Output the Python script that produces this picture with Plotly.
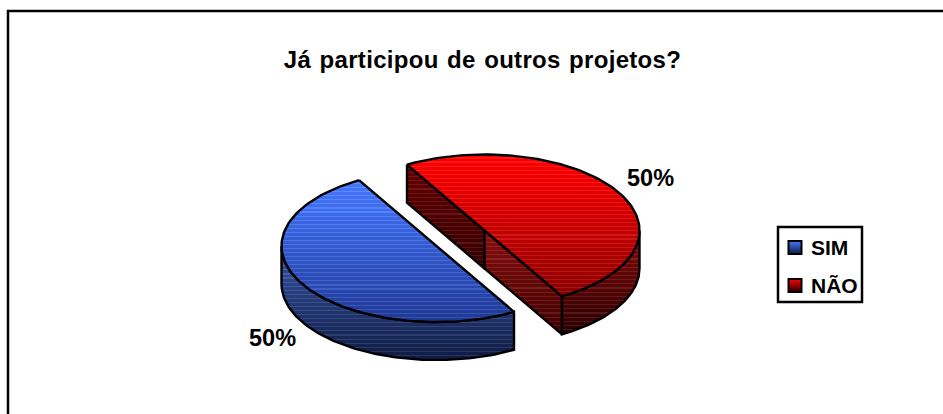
import numpy as np
import plotly.graph_objects as go

categories = ["SIM", "NÃO"]
values = [50, 50]
title_text = "Já participou de outros projetos?"

START_DEG = 120
CENTERS = [(436.5, 246), (484.5, 230.5)]
RX, RY, DEPTH = 155, 76, 38
TOP_COL = [((70, 120, 255), (30, 55, 145)), ((255, 0, 0), (135, 0, 0))]
WALL_COL = [((55, 85, 165), (14, 26, 64)), ((130, 10, 10), (40, 0, 0))]
CUT_COL = [((100, 0, 0), (50, 0, 0)), ((135, 15, 15), (60, 0, 0))]
FONT = "Liberation Sans"


def mix(a, b, t):
    return tuple(int(round(a[i] + (b[i] - a[i]) * t)) for i in range(3))


def striped(c0, c1, span, period=4):
    """Vertical colour scale with the fine banding of the original."""
    stops = []
    n = max(1, int(span // period))
    for k in range(n):
        t0, t1 = k / n, (k + 1) / n
        tm = t0 + (t1 - t0) * 0.72
        base = mix(c0, c1, t0)
        light = tuple(min(255, int(v + 22)) for v in base)
        stops += [[t0, f"rgb{base}"], [tm, f"rgb{base}"], [tm, f"rgb{light}"], [t1, f"rgb{light}"]]
    stops[0][0] = 0.0
    stops[-1][0] = 1.0
    return stops


def ell(c, deg0, deg1, dy=0, n=120):
    t = np.radians(np.linspace(deg0, deg1, n))
    return c[0] + RX * np.cos(t), c[1] - RY * np.sin(t) + dy


def poly(x, y, cols):
    x = np.append(x, x[0])
    y = np.append(y, y[0])
    y0, y1 = float(y.min()), float(y.max())
    return go.Scatter(
        x=x, y=y, mode="lines", fill="toself",
        line=dict(color="black", width=2.4),
        fillgradient=dict(type="vertical", colorscale=striped(cols[0], cols[1], y1 - y0), start=y0, stop=y1),
        hoverinfo="skip", showlegend=False,
    )


fig = go.Figure()
total = sum(values)
angle = START_DEG
for i, (cat, val) in enumerate(zip(categories, values)):
    sweep = val / total * 360
    a0, a1 = angle, angle + sweep
    c = CENTERS[i]
    if i == 1:
        # cut faces seen through the exploded gap
        ex0, ey0 = ell(c, a1, a1, n=1)
        ex1, ey1 = ell(c, a0, a0, n=1)
        fig.add_trace(poly(np.array([ex0[0], c[0], c[0], ex0[0]]),
                           np.array([ey0[0], c[1], c[1] + DEPTH, ey0[0] + DEPTH]), CUT_COL[0]))
        fig.add_trace(poly(np.array([c[0], ex1[0], ex1[0], c[0]]),
                           np.array([c[1], ey1[0], ey1[0] + DEPTH, c[1] + DEPTH]), CUT_COL[1]))
    w0, w1 = (a0, 360) if i == 1 else (180, a1)
    xt, yt = ell(c, w0, w1)
    xb, yb = ell(c, w1, w0, dy=DEPTH)
    fig.add_trace(poly(np.concatenate([xt, xb]), np.concatenate([yt, yb]), WALL_COL[i]))
    xt, yt = ell(c, a0, a1)
    fig.add_trace(poly(xt, yt, TOP_COL[i]))
    angle = a1

annotations = []
label_pos = [(272.5, 338), (650, 178)]
for (lx, ly), val in zip(label_pos, values):
    annotations.append(dict(x=lx, y=ly, xref="x", yref="y", showarrow=False,
                            text=f"<b>{round(val / total * 100)}%</b>",
                            font=dict(family=FONT, size=23.5, color="black")))

# legend: box, swatches and labels
LEG_Y = [247.5, 285.5]
for i, cat in enumerate(categories):
    fig.add_trace(go.Scatter(
        x=[795], y=[LEG_Y[i]], mode="markers", hoverinfo="skip", showlegend=False,
        marker=dict(symbol="square", size=13, color=f"rgb{TOP_COL[i][0]}",
                    gradient=dict(type="vertical", color=f"rgb{WALL_COL[i][1]}"),
                    line=dict(color="black", width=2)),
    ))
    annotations.append(dict(x=809, y=LEG_Y[i], xref="x", yref="y", xanchor="left", showarrow=False,
                            text=f"<b>{cat}</b>", font=dict(family=FONT, size=21, color="black")))

fig.update_layout(
    width=943, height=414, margin=dict(l=0, r=0, t=0, b=0),
    paper_bgcolor="white", plot_bgcolor="white", showlegend=False,
    xaxis=dict(range=[0, 943], visible=False, fixedrange=True),
    yaxis=dict(range=[414, 0], visible=False, fixedrange=True),
    title=dict(text=f"<b>{title_text}</b>", x=482.5 / 943, xanchor="center", y=1 - 59.5 / 414, yanchor="middle",
               font=dict(family=FONT, size=24, color="black")),
    annotations=annotations,
    shapes=[
        dict(type="path", xref="x", yref="y", path="M 8 414 L 8 11 L 943 11",
             line=dict(color="black", width=2.5)),
        dict(type="rect", xref="x", yref="y", x0=778, x1=862, y0=227, y1=302,
             line=dict(color="black", width=2.5), fillcolor="white", layer="below"),
    ],
)

fig.write_html(
    "out.html",
    config={"displayModeBar": False},
    post_script=(
        "document.documentElement.style.margin='0';document.body.style.margin='0';"
        "document.querySelectorAll('.gtitle').forEach(function(t){"
        "t.style.letterSpacing='0.3px';t.style.wordSpacing='1.5px';});"
    ),
)
